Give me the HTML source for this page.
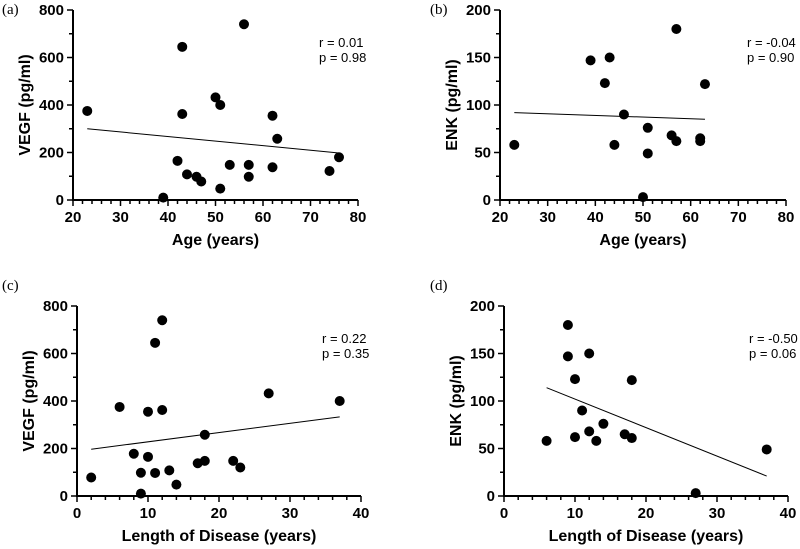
<!DOCTYPE html>
<html><head><meta charset="utf-8"><style>
html,body{margin:0;padding:0;background:#fff;}
svg{display:block;font-family:"Liberation Sans",Arial,sans-serif;}
</style></head><body>
<svg id="fig" width="800" height="549" viewBox="0 0 800 549"></svg>
<script>
const ageA=[23,43,56,43,50,51,62,63,76,42,44,46,47,51,53,57,57,62,74,39];
const vegfA=[375,645,740,362,432,400,355,258,180,165,108,98,78,48,148,148,98,138,122,10];
const fitA=[[23,300],[76,198]];
const ageB=[23,39,43,42,57,63,46,51,44,56,57,62,62,51,50];
const enkB=[58,147,150,123,180,122,90,76,58,68,62,65,62,49,3];
const fitB=[[23,92],[63,85]];
const lenC=[2,6,8,9,9,10,10,11,11,12,12,13,14,17,18,18,22,23,27,37];
const vegfC=[78,375,178,98,10,355,165,645,97,740,362,108,48,138,148,258,148,120,432,400];
const fitC=[[2,197],[37,333]];
const lenD=[6,9,9,10,10,11,12,12,13,14,17,18,18,27,37];
const enkD=[58,180,147,123,62,90,150,68,58,76,65,122,61,3,49];
const fitD=[[6,114],[37,21]];
const xTicksAge=[20,30,40,50,60,70,80];
const xTicksLen=[0,10,20,30,40];
const yTicksVegf=[0,200,400,600,800];
const yTicksEnk=[0,50,100,150,200];

const NS="http://www.w3.org/2000/svg";
const svg=document.getElementById('fig');
function mk(tag,attrs,parent,text){const e=document.createElementNS(NS,tag);for(const k in attrs)e.setAttribute(k,attrs[k]);if(text!==undefined)e.textContent=text;(parent||svg).appendChild(e);return e;}

function panel(id,letter,lx,ly,x0,x1,y0,y1,xt,yt,xs,ys,fit,xTitle,yTitle,r,p){
  const g=mk('g',{});
  
  
  const xmin=xt[0],xmax=xt[xt.length-1],ymin=yt[0],ymax=yt[yt.length-1];
  const X=v=>x0+(v-xmin)/(xmax-xmin)*(x1-x0);
  const Y=v=>y0-(v-ymin)/(ymax-ymin)*(y0-y1);
  const lab=mk('text',{x:lx,y:ly,'font-family':'"Liberation Serif",serif','font-size':15},g,'('+letter+')');
  
  
  const ax=mk('path',{d:`M${x0} ${y1}V${y0}H${x1}`,stroke:'#000','stroke-width':2,fill:'none'},g);
  
  
  const xstep=(xt[1]-xt[0])/5;
  for(let v=xmin;v<=xmax+1e-9;v+=xstep){
    const major=Math.abs((v-xmin)/(xt[1]-xt[0])-Math.round((v-xmin)/(xt[1]-xt[0])))<1e-6;
    mk('line',{x1:X(v),x2:X(v),y1:y0,y2:y0+(major?6:4),stroke:'#000','stroke-width':1.5},g);
  }
  xt.forEach(v=>{const t=mk('text',{x:X(v),y:y0+22,'text-anchor':'middle','font-size':15,'font-weight':'bold'},g,v);
    
    });
  const ystep=(yt[1]-yt[0])/2;
  for(let v=ymin;v<=ymax+1e-9;v+=ystep){
    const major=Math.abs((v-ymin)/(yt[1]-yt[0])-Math.round((v-ymin)/(yt[1]-yt[0])))<1e-6;
    mk('line',{x1:x0,x2:x0-(major?6:4),y1:Y(v),y2:Y(v),stroke:'#000','stroke-width':1.5},g);
  }
  yt.forEach(v=>{const t=mk('text',{x:x0-9,y:Y(v)+5,'text-anchor':'end','font-size':15,'font-weight':'bold'},g,v);
    
    });
  const xtl=mk('text',{x:(x0+x1)/2,y:y0+45,'text-anchor':'middle','font-size':16,'font-weight':'bold'},g,xTitle);
  
  
  const yc=(y0+y1)/2;
  const yx=x0-43;
  const ytl=mk('text',{x:yx,y:yc,'text-anchor':'middle','font-size':16,'font-weight':'bold',transform:`rotate(-90 ${yx} ${yc})`},g,yTitle);
  
  
  const fl=mk('line',{x1:X(fit[0][0]),y1:Y(fit[0][1]),x2:X(fit[1][0]),y2:Y(fit[1][1]),stroke:'#000','stroke-width':1},g);
  
  
  xs.forEach((v,i)=>{const c=mk('circle',{cx:X(v),cy:Y(ys[i]),r:5,fill:'#000'},g);
    
    });
  const st=mk('text',{x:x1-39,y:y1+37,'font-size':13},g,'r = '+r);
  
  
  const sp=mk('text',{x:x1-39,y:y1+52,'font-size':13},g,'p = '+p);
  
  
}
panel('a','a',2,14,73,358,200,10,xTicksAge,yTicksVegf,ageA,vegfA,fitA,'Age (years)','VEGF (pg/ml)','0.01','0.98');
panel('b','b',430,14,500,786,200,10,xTicksAge,yTicksEnk,ageB,enkB,fitB,'Age (years)','ENK (pg/ml)','-0.04','0.90');
panel('c','c',2,290,77,361,496,306,xTicksLen,yTicksVegf,lenC,vegfC,fitC,'Length of Disease (years)','VEGF (pg/ml)','0.22','0.35');
panel('d','d',430,290,504,788,496,306,xTicksLen,yTicksEnk,lenD,enkD,fitD,'Length of Disease (years)','ENK (pg/ml)','-0.50','0.06');
</script>
</body></html>
